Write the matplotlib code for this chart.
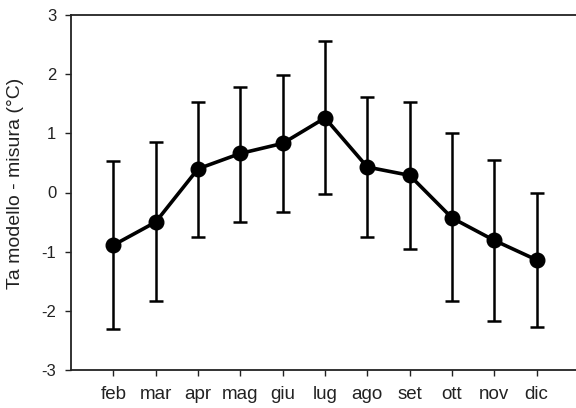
import numpy as np
import matplotlib.pyplot as plt

plt.rcParams['font.family'] = ['Liberation Sans', 'DejaVu Sans']
plt.rcParams['axes.unicode_minus'] = False

mesi = ['feb', 'mar', 'apr', 'mag', 'giu', 'lug', 'ago', 'set', 'ott', 'nov', 'dic']
media = [-0.89, -0.50, 0.40, 0.66, 0.83, 1.26, 0.43, 0.29, -0.43, -0.81, -1.14]
sup = [0.53, 0.85, 1.53, 1.79, 1.98, 2.56, 1.61, 1.53, 1.00, 0.55, -0.01]
inf = [-2.30, -1.84, -0.75, -0.50, -0.33, -0.03, -0.75, -0.96, -1.84, -2.18, -2.28]

media = np.array(media)
err = [media - np.array(inf), np.array(sup) - media]
x = np.arange(1, len(mesi) + 1)

fig = plt.figure(figsize=(5.76, 4.08), dpi=100)
# the frame runs a little past the right edge of the figure
ax = fig.add_axes([71 / 576, 1 - 370 / 408, 508 / 576, 355 / 408])

ax.errorbar(x, media, yerr=err, color='black', linewidth=2.6, marker='o',
            markersize=10.5, elinewidth=1.8, capsize=5, capthick=1.8)

ax.set_xlim(0, 12)
ax.set_ylim(-3, 3)
ax.set_xticks(x)
ax.set_xticklabels(mesi)
ax.set_yticks(range(-3, 4))
ax.tick_params(direction='out', length=4.5, width=1.0, colors='#222222')
ax.tick_params(axis='x', labelsize=13.5, pad=7)
ax.tick_params(axis='y', labelsize=12, pad=6)
for s in ['left', 'bottom', 'top']:
    ax.spines[s].set_linewidth(1.3)
    ax.spines[s].set_color('#222222')
ax.spines['right'].set_visible(False)
ax.set_ylabel('Ta modello - misura (°C)', fontsize=14, color='#222222')
ax.yaxis.set_label_coords(-0.092, 0.525)

fig.savefig('out.png', dpi=100)
